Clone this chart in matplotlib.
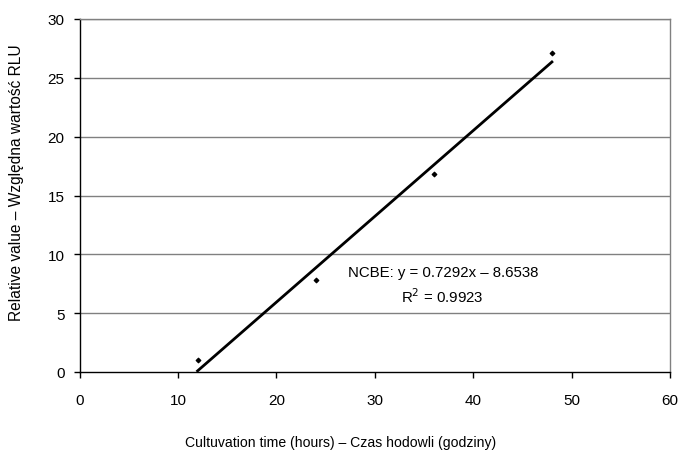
import matplotlib
matplotlib.use("Agg")
import matplotlib.pyplot as plt
import numpy as np

plt.rcParams['font.family'] = ['Liberation Sans', 'DejaVu Sans']

hours = [12, 24, 36, 48]
rlu = [1.0, 7.8, 16.8, 27.1]
slope = 0.7292
intercept = -8.6538
x_ticks = [0, 10, 20, 30, 40, 50, 60]
y_ticks = [0, 5, 10, 15, 20, 25, 30]

W, H = 681, 456
FS_TICK = 11
FS_ANN = 10.8
FS_XLAB = 10.1
FS_YLAB = 11.2
fig = plt.figure(figsize=(W/100, H/100), dpi=100)
ax = fig.add_axes([79.5/W, (H-373)/H, (670-79.5)/W, (373-20)/H])

for yv in y_ticks[1:]:
    ax.axhline(yv, color='#808080', lw=1.0, zorder=1)

ax.scatter(hours, rlu, s=5, color='black', marker='D', zorder=3)
xf = np.array([hours[0], hours[-1]])
ax.plot(xf, slope * xf + intercept, color='black', lw=2.0, zorder=2)

ax.set_xlim(0, 60)
ax.set_ylim(0, 30)
ax.set_xticks(x_ticks)
ax.set_yticks(y_ticks)
ax.tick_params(axis='x', labelsize=FS_TICK, direction='out', length=4.3, width=1, color='black', pad=10.5)
ax.tick_params(axis='y', labelsize=FS_TICK, direction='out', length=4.3, width=1, color='black', pad=6.5)

ax.spines['left'].set_color('black')
ax.spines['bottom'].set_color('black')
ax.spines['top'].set_color('#808080')
ax.spines['right'].set_color('#808080')
for s in ax.spines.values():
    s.set_linewidth(1.0)

ax.text(443, H - 273, 'NCBE: y = 0.7292x – 8.6538', transform=None, fontsize=FS_ANN, ha='center', va='center')
ax.text(442, H - 297, 'R$^{2}$ = 0.9923', fontsize=FS_ANN, ha='center', va='center', transform=None)

fig.text(340.5/W, 1 - 443/H, 'Cultuvation time (hours) – Czas hodowli (godziny)', fontsize=FS_XLAB, ha='center', va='center')
fig.text(17/W, 1 - 183/H, 'Relative value – Względna wartość RLU', fontsize=FS_YLAB, ha='center', va='center', rotation=90)

fig.savefig('out.png', dpi=100)
